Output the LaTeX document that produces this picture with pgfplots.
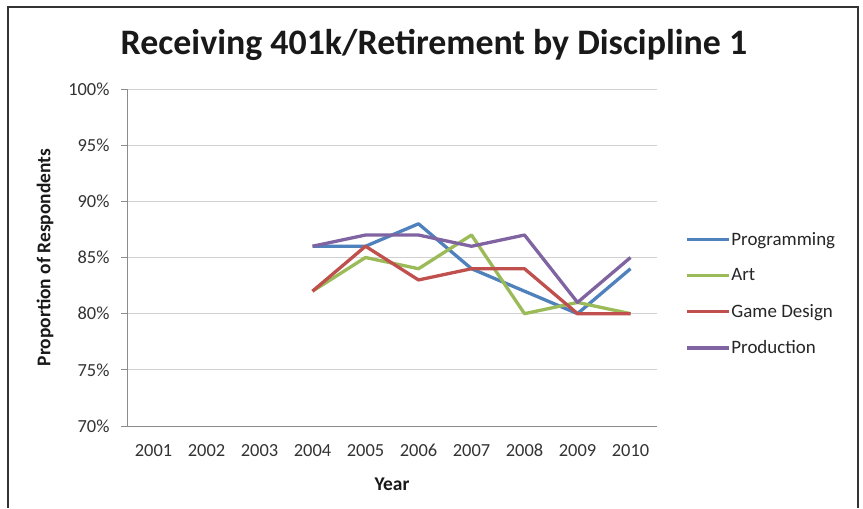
\documentclass[border=0pt]{standalone}
\usepackage{fontspec}
\setmainfont{Carlito}
\usepackage{pgfplots}
\pgfplotsset{compat=1.18}
\definecolor{cBlue}{HTML}{4F81BD}
\definecolor{cGreen}{HTML}{9BBB59}
\definecolor{cRed}{HTML}{C0504D}
\definecolor{cPurple}{HTML}{8064A2}
\begin{document}
\begin{tikzpicture}[x=1bp,y=1bp]
\fill[white] (0,0) rectangle (863,508);
\draw[line width=2bp, black!80] (8,0) -- (8,501) -- (858,501) -- (858,0);
\node[font=\bfseries\fontsize{36}{40}\selectfont, text=black!90] at (434,463) {Receiving 401k/Retirement by Discipline 1};
\begin{axis}[
  at={(127bp,82bp)}, anchor=south west,
  scale only axis, width=530bp, height=337bp,
  xmin=0.5, xmax=10.5, ymin=70, ymax=100,
  xtick={1,...,10},
  xticklabels={2001,2002,2003,2004,2005,2006,2007,2008,2009,2010},
  ytick={70,75,...,100},
  yticklabel={\pgfmathprintnumber{\tick}\%},
  /pgf/number format/assume math mode=true,
  ymajorgrids, grid style={black!18, line width=0.8bp},
  axis x line*=bottom, axis y line*=left,
  axis line style={black!45, line width=0.8bp},
  x axis line style={-}, y axis line style={-},
  major x tick style={draw=none},
  major y tick style={black!45, line width=0.8bp},
  tick align=outside, major tick length=6bp,
  ticklabel style={font=\fontsize{18.5}{20}\selectfont, text=black!80},
  xticklabel style={yshift=-9bp, text height=12bp, text depth=0bp},
  yticklabel style={xshift=-8bp},
  xlabel={\textbf{Year}}, ylabel={\textbf{Proportion of Respondents}},
  label style={font=\fontsize{19.5}{21}\selectfont, text=black!90},
  xlabel style={yshift=-15bp},
  ylabel style={yshift=8bp},
  legend style={at={(1.047,0.3926)}, anchor=west, draw=none, fill=none,
    font=\fontsize{19}{21}\selectfont, text=black!85, row sep=20bp,
    nodes={inner sep=1bp}},
  legend cell align=left,
  legend image code/.code={\draw[#1, line width=3.3bp] (0bp,0bp) -- (42bp,0bp);},
  every axis plot/.append style={line width=3.3bp, line join=round},
]
\addplot[cBlue] coordinates {(4,86) (5,86) (6,88) (7,84) (8,82) (9,80) (10,84)};
\addplot[cGreen] coordinates {(4,82) (5,85) (6,84) (7,87) (8,80) (9,81) (10,80)};
\addplot[cRed] coordinates {(4,82) (5,86) (6,83) (7,84) (8,84) (9,80) (10,80)};
\addplot[cPurple] coordinates {(4,86) (5,87) (6,87) (7,86) (8,87) (9,81) (10,85)};
\legend{Programming, Art, Game Design, Production}
\end{axis}
\end{tikzpicture}
\end{document}
